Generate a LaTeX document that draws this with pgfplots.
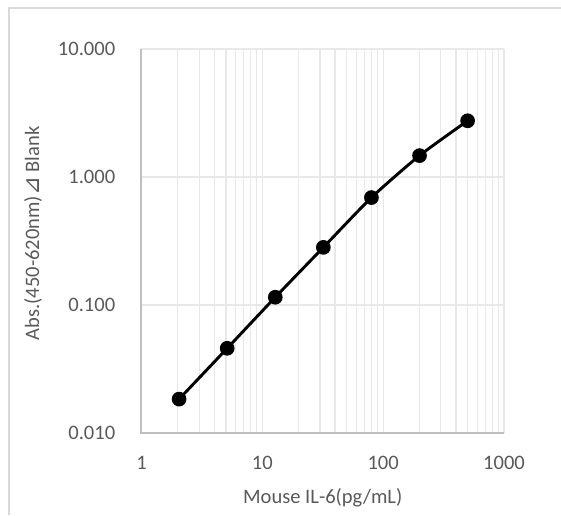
\documentclass[border=0pt]{standalone}
\usepackage{fontspec}
\setmainfont{Carlito}
\newfontfamily\dejavu{DejaVu Sans}
\usepackage{pgfplots}
\pgfplotsset{compat=1.18}
\definecolor{txtgray}{HTML}{595959}
\definecolor{spinegray}{HTML}{BFBFBF}
\definecolor{gridgray}{HTML}{E8E8E8}
\definecolor{framegray}{HTML}{D9D9D9}
\begin{document}
\begin{tikzpicture}
% picture is 561 x 515 px, 1 px = 0.75pt
\path[use as bounding box] (0pt,0pt) rectangle (420.75pt,386.25pt);
\draw[framegray, line width=1.5pt] (6.75pt,0pt) -- (6.75pt,380.25pt) -- (420.75pt,380.25pt);
\begin{axis}[
    at={(106.1pt,61.5pt)}, anchor=south west,
    scale only axis,
    width=271.9pt, height=288pt,
    xmode=log, ymode=log,
    xmin=1, xmax=1000,
    ymin=0.01, ymax=10,
    xtick={1,10,100,1000},
    xticklabels={1,10,100,1000},
    ytick={0.01,0.1,1,10},
    yticklabels={0.010,0.100,1.000,10.000},
    minor xtick={2,3,4,5,6,7,8,9,20,30,40,50,60,70,80,90,200,300,400,500,600,700,800,900},
    minor ytick={},
    xmajorgrids, ymajorgrids, xminorgrids,
    grid style={gridgray, line width=0.9pt},
    minor grid style={gridgray, line width=0.9pt},
    axis line style={draw=none},
    major tick length=0pt, minor tick length=0pt,
    tick label style={font=\fontsize{15.4}{18}\selectfont, text=txtgray, inner sep=0pt},
    xticklabel style={anchor=base, yshift=-27.4pt},
    yticklabel style={anchor=east, xshift=-19.5pt},
    label style={font=\fontsize{15.4}{18}\selectfont, text=txtgray},
    xlabel={Mouse IL-6(pg/mL)},
    ylabel={Abs.(450-620nm){\dejavu\fontsize{17}{18}\selectfont ⊿} Blank},
    xlabel style={at={(axis description cs:0.5,-0.168)}, anchor=center},
    ylabel style={at={(axis description cs:-0.299,0.52)}, anchor=center},
    clip=false,
]
\draw[spinegray, line width=1.5pt] (axis cs:1,10) -- (axis cs:1,0.01) -- (axis cs:1000,0.01);
\addplot[black, line width=2.2pt, smooth, tension=0.4, mark=*, mark size=4.4pt,
  mark options={fill=black}] coordinates {
  (2.048,0.0184) (5.12,0.0459) (12.8,0.115) (32,0.282)
  (80,0.691) (200,1.47) (500,2.75)
};
\end{axis}
\end{tikzpicture}
\end{document}
